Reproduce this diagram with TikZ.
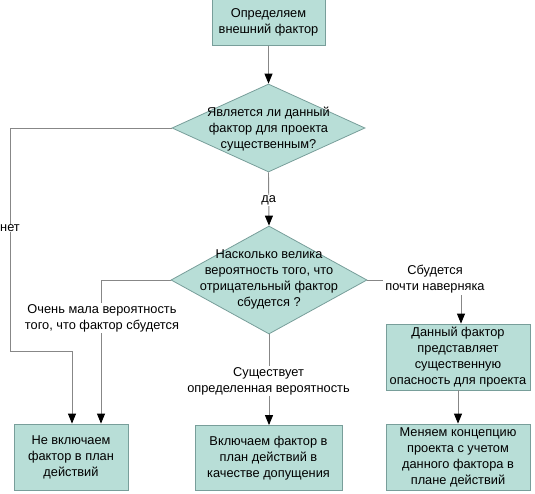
\documentclass[tikz,border=0pt]{standalone}
\usepackage{fontspec}
\setmainfont{Liberation Sans}
\usetikzlibrary{shapes.geometric,arrows.meta}
\definecolor{boxfill}{RGB}{184,222,215}
\definecolor{boxline}{RGB}{120,158,154}
\definecolor{conn}{RGB}{135,135,135}
\tikzset{
  x=1pt,y=-1pt,
  every node/.style={font=\fontsize{12.8}{16}\selectfont, text=black},
  stepbox/.style={draw=boxline, fill=boxfill, line width=0.8pt, align=center, inner sep=0pt},
  dia/.style={diamond, draw=boxline, fill=boxfill, line width=0.8pt, inner sep=0pt},
  conn/.style={draw=conn, line width=0.9pt},
  arr/.style={conn, -{Triangle[width=8pt,length=10pt,color=black]}},
  lbl/.style={fill=white, align=center, inner sep=1pt},
}
\begin{document}
\begin{tikzpicture}
\useasboundingbox (0,0) rectangle (535,494);
% boxes
\node[stepbox, minimum width=113pt, minimum height=46pt] (top) at (268.5,22.5) {Определяем\\внешний фактор};
\node[dia, minimum width=193pt, minimum height=88pt] (d1) at (268.5,128) {};
\node[align=center] at (268.5,129) {Является ли данный\\фактор для проекта\\существенным?};
\node[dia, minimum width=196pt, minimum height=108pt] (d2) at (269,280) {};
\node[align=center] at (269,279) {Насколько велика\\вероятность того, что\\отрицательный фактор\\сбудется ?};
\node[stepbox, minimum width=114pt, minimum height=66pt] (b1) at (71,457) {Не включаем\\фактор в план\\действий};
\node[stepbox, minimum width=147pt, minimum height=65pt] (b2) at (268.5,458) {Включаем фактор в\\план действий в\\качестве допущения};
\node[stepbox, minimum width=144pt, minimum height=66pt] (r1) at (458,357) {Данный фактор\\представляет\\существенную\\опасность для проекта};
\node[stepbox, minimum width=144pt, minimum height=66pt] (r2) at (458,457) {Меняем концепцию\\проекта с учетом\\данного фактора в\\плане действий};
% coordinates
\coordinate (c1) at (10,128);
\coordinate (c2) at (10,351);
\coordinate (c3) at (72,351);
\coordinate (c4) at (101,280);
\coordinate (c5) at (461,280);
% connectors
\draw[arr] (top.south) -- (d1.north);
\draw[arr] (d1.south) -- node[lbl, pos=0.53]{да} (d2.north);
\draw[conn] (d1.west) -- (c1) -- node[lbl, pos=0.45, inner sep=0pt]{нет} (c2) -- (c3);
\draw[arr] (c3) -- (c3 |- b1.north);
\draw[arr] (d2.west) -- (c4) -- (c4 |- b1.north);
\node[lbl] (l1) at (102,318) {Очень мала вероятность\\того, что фактор сбудется};
\draw[arr] (d2.south) -- (d2.south |- b2.north);
\node[lbl] (l2) at (268.5,381) {Существует\\определенная вероятность};
\draw[conn] (d2.east) -- (c5);
\draw[arr] (c5) -- (c5 |- r1.north);
\node[lbl, inner sep=2pt] (l3) at (435,279) {Сбудется\\почти наверняка};
\draw[arr] (r1.south) -- (r1.south |- r2.north);
\end{tikzpicture}
\end{document}
